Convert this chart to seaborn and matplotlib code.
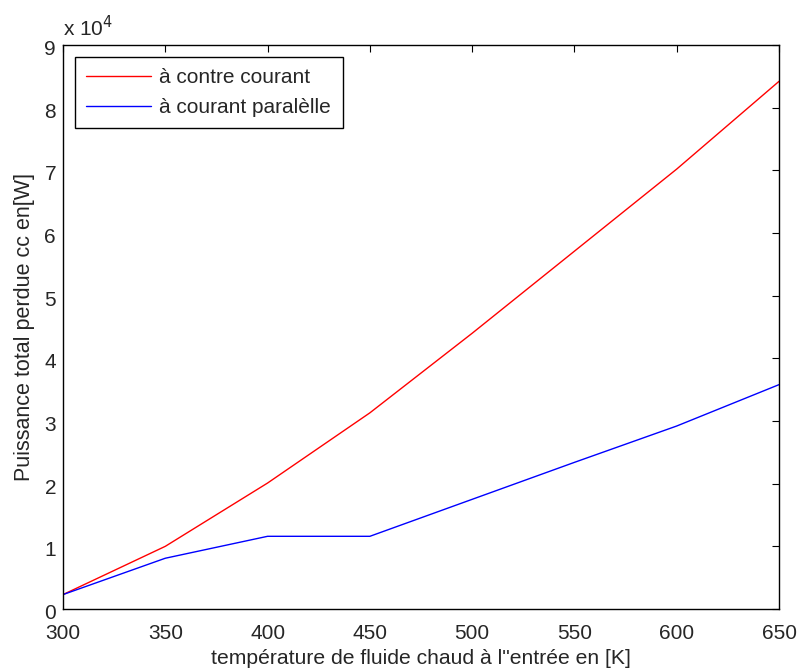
import numpy as np
import pandas as pd
import matplotlib
matplotlib.use("Agg")
import matplotlib.pyplot as plt
import matplotlib.transforms as mtransforms
import seaborn as sns

temperature = [300, 350, 400, 450, 500, 550, 600, 650]
contre_courant = [2300, 10000, 20100, 31300, 44000, 57100, 70200, 84200]
courant_parallele = [2300, 8100, 11600, 11600, 17500, 23400, 29200, 35800]
labels = ["à contre courant", "à courant paralèlle"]

sns.set_theme(style="white")
plt.rcParams['font.family'] = ['Liberation Sans', 'DejaVu Sans']

df = pd.DataFrame({
    "T": temperature * 2,
    "P": np.array(contre_courant + courant_parallele) / 1e4,
    "serie": [labels[0]] * len(temperature) + [labels[1]] * len(temperature),
})

fs = 15
fig = plt.figure(figsize=(7.98, 6.69), dpi=100)
ax = fig.add_axes([63 / 798, 1 - 609 / 669, (779 - 63) / 798, (609 - 45) / 669])
sns.lineplot(data=df, x="T", y="P", hue="serie", palette=["#ff0000", "#0000ff"],
             linewidth=1.0, ax=ax, legend=True)

ax.set_xlim(300, 650)
ax.set_ylim(0, 9)
ax.set_xticks(range(300, 651, 50))
ax.set_yticks(range(0, 10))
ax.tick_params(direction="in", top=True, right=True, length=5, width=0.8,
               labelsize=fs, color="black")
ax.tick_params(axis="x", pad=10.5)
ax.tick_params(axis="y", pad=5)
offset = mtransforms.ScaledTranslation(0, -2.5 / 100, fig.dpi_scale_trans)
for lab in ax.get_yticklabels():
    lab.set_transform(lab.get_transform() + offset)
for s in ax.spines.values():
    s.set_color("black")
    s.set_linewidth(1.0)
ax.set_xlabel("température de fluide chaud à l\"entrée en [K]", fontsize=15.2, labelpad=4.5)
ax.set_ylabel("Puissance total perdue cc en[W]", fontsize=15.5, labelpad=7)
ax.text(0.0, 1.008, r"x 10$^{4}$", transform=ax.transAxes, fontsize=fs,
        ha="left", va="bottom")

leg = ax.legend(loc="upper left", fontsize=fs, frameon=True, fancybox=False,
                edgecolor="black", framealpha=1, handlelength=3.1,
                handletextpad=0.4, borderpad=0.55, labelspacing=0.5,
                borderaxespad=0,
                bbox_to_anchor=((75 - 63) / 716, (609 - 57) / 564))
leg.get_frame().set_linewidth(1.0)

fig.savefig("out.png", dpi=100)
